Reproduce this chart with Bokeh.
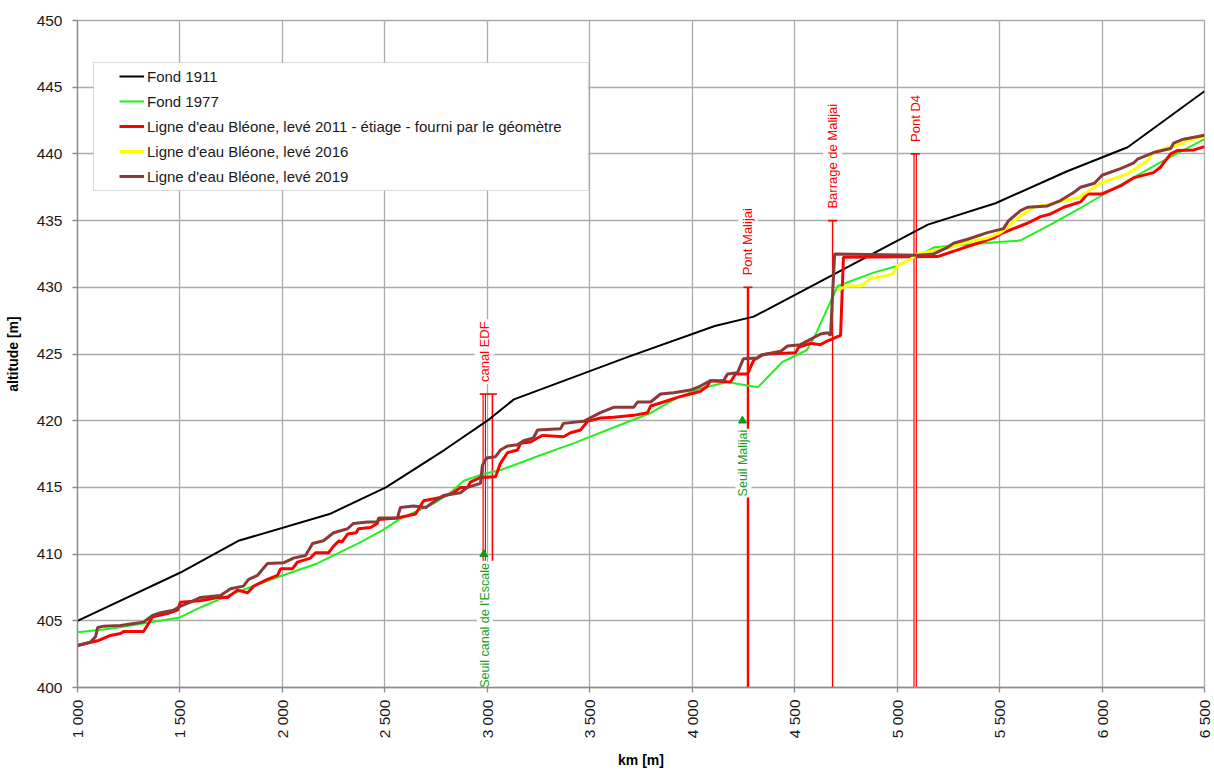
import math
from bokeh.plotting import figure
from bokeh.models import Range1d, FixedTicker, ColumnDataSource, BoxAnnotation
from bokeh.core.properties import value
from bokeh.embed import file_html
from bokeh.resources import INLINE

# ---------------- data ----------------
x_ticks = [1000, 1500, 2000, 2500, 3000, 3500, 4000, 4500, 5000, 5500, 6000, 6500]
x_tick_labels = ["1 000", "1 500", "2 000", "2 500", "3 000", "3 500", "4 000",
                 "4 500", "5 000", "5 500", "6 000", "6 500"]
y_ticks = [400, 405, 410, 415, 420, 425, 430, 435, 440, 445, 450]

km_1911 = [1000, 1500, 1785, 2230, 2505, 2790, 3000, 3130, 3690, 4110, 4300,
           5150, 5480, 5830, 6125, 6500]
z_1911 = [405.0, 408.6, 411.0, 413.0, 415.0, 417.8, 420.0, 421.6, 424.8, 427.1, 427.8,
          434.7, 436.3, 438.7, 440.5, 444.7]

km_1977 = [1000, 1160, 1320, 1440, 1500, 1600, 1760, 2000, 2170, 2370, 2490, 2580,
           2740, 2820, 2885, 2980, 3065, 3275, 3420, 3635, 3800, 3930, 4040, 4170,
           4320, 4440, 4560, 4600, 4710, 4885, 5000, 5080, 5180, 5500, 5600, 5760,
           5900, 6000, 6150, 6300, 6500]
z_1977 = [404.15, 404.4, 404.8, 405.1, 405.25, 406.0, 407.05, 408.4, 409.3, 410.8,
          411.8, 412.7, 413.8, 414.6, 415.5, 416.0, 416.3, 417.5, 418.3, 419.6, 420.6,
          421.75, 422.4, 422.9, 422.5, 424.4, 425.3, 426.4, 430.1, 431.1, 431.6, 432.2,
          433.0, 433.4, 433.5, 434.8, 436.0, 436.9, 438.2, 439.5, 441.1]

km_2011 = [1000, 1098, 1161, 1210, 1225, 1322, 1347, 1366, 1439, 1488, 1503, 1600,
           1683, 1732, 1781, 1830, 1860, 1927, 1976, 1991, 2049, 2073, 2137, 2161,
           2225, 2250, 2276, 2290, 2318, 2360, 2371, 2430, 2463, 2470, 2561, 2650,
           2689, 2772, 2835, 2869, 2903, 2918, 2967, 3040, 3064, 3098, 3147, 3162,
           3211, 3245, 3270, 3372, 3406, 3455, 3489, 3552, 3616, 3714, 3782, 3797,
           3860, 3928, 3992, 4040, 4074, 4089, 4187, 4211, 4270, 4299, 4333, 4367,
           4504, 4519, 4577, 4626, 4650, 4724, 4738, 5197, 5295, 5392, 5471, 5505,
           5568, 5636, 5700, 5749, 5813, 5895, 5929, 6000, 6090, 6153, 6251, 6285,
           6335, 6368, 6448, 6500]
z_2011 = [403.15, 403.5, 403.9, 404.05, 404.2, 404.2, 404.8, 405.3, 405.55, 405.8,
          406.4, 406.5, 406.75, 406.75, 407.3, 407.1, 407.6, 408.1, 408.4, 408.9,
          408.9, 409.4, 409.7, 410.1, 410.1, 410.6, 411.0, 410.9, 411.5, 411.6, 411.9,
          412.0, 412.3, 412.6, 412.7, 413.0, 414.0, 414.25, 414.6, 415.0, 415.0,
          415.4, 415.75, 415.8, 416.8, 417.6, 417.8, 418.3, 418.4, 418.7, 418.9,
          418.8, 419.1, 419.3, 419.95, 420.2, 420.25, 420.4, 420.6, 421.1, 421.4,
          421.75, 422.0, 422.2, 422.6, 423.0, 422.9, 423.5, 423.5, 424.5, 424.9,
          425.0, 425.1, 425.5, 425.8, 425.7, 425.9, 426.4, 432.25, 432.3, 432.8,
          433.3, 433.7, 434.0, 434.4, 434.8, 435.3, 435.5, 436.0, 436.4, 437.0,
          437.0, 437.6, 438.2, 438.6, 439.0, 440.0, 440.25, 440.3, 440.55]

km_2016 = [4709, 4758, 4821, 4870, 4953, 4978, 5002, 5066, 5100, 5178, 5261, 5344,
           5441, 5505, 5539, 5588, 5666, 5734, 5813, 5880, 5963, 5993, 6056, 6124,
           6222, 6251, 6285, 6398, 6417, 6500]
z_2016 = [429.8, 430.1, 430.1, 430.65, 430.9, 431.0, 431.6, 432.1, 432.5, 432.75,
          433.0, 433.4, 433.7, 434.1, 434.5, 435.2, 436.0, 436.2, 436.5, 436.7,
          437.5, 437.8, 438.15, 438.5, 439.5, 440.1, 440.3, 440.8, 441.0, 441.3]

km_2019 = [1000, 1063, 1088, 1098, 1128, 1210, 1275, 1322, 1366, 1405, 1469, 1503,
           1552, 1600, 1698, 1747, 1810, 1835, 1878, 1927, 2005, 2054, 2113, 2147,
           2200, 2250, 2318, 2347, 2416, 2463, 2470, 2561, 2576, 2640, 2700, 2737,
           2786, 2869, 2903, 2967, 2976, 2996, 3040, 3064, 3098, 3147, 3177, 3225,
           3245, 3357, 3372, 3470, 3552, 3616, 3714, 3733, 3797, 3845, 3909, 3992,
           4040, 4089, 4153, 4172, 4221, 4250, 4319, 4343, 4431, 4465, 4528, 4577,
           4626, 4660, 4675, 4695, 5100, 5178, 5246, 5275, 5344, 5441, 5519, 5544,
           5602, 5636, 5734, 5797, 5861, 5895, 5963, 6000, 6090, 6153, 6173, 6251,
           6335, 6349, 6398, 6500]
z_2019 = [403.15, 403.4, 403.8, 404.5, 404.6, 404.65, 404.8, 404.9, 405.4, 405.6,
          405.8, 406.1, 406.4, 406.75, 406.9, 407.4, 407.6, 408.1, 408.4, 409.3,
          409.35, 409.7, 409.9, 410.8, 411.0, 411.6, 411.9, 412.3, 412.4, 412.4,
          412.7, 412.7, 413.5, 413.6, 413.5, 413.9, 414.4, 414.6, 415.0, 415.3,
          416.65, 417.2, 417.3, 417.8, 418.1, 418.2, 418.5, 418.7, 419.3, 419.4,
          419.8, 419.95, 420.6, 421.0, 421.0, 421.4, 421.4, 422.0, 422.1, 422.3,
          422.6, 423.0, 423.0, 423.5, 423.6, 424.65, 424.7, 424.95, 425.2, 425.6,
          425.7, 426.1, 426.5, 426.6, 426.4, 432.5, 432.4, 432.5, 433.0, 433.3,
          433.6, 434.1, 434.4, 435.0, 435.75, 436.0, 436.1, 436.5, 437.1, 437.5,
          437.8, 438.4, 438.9, 439.3, 439.6, 440.1, 440.4, 440.8, 441.1, 441.4]

# structures (red bars) and their labels
bar_km = [2985, 3025, 4272, 4685, 5088]
bar_top = [422, 422, 430, 435, 440]
bar_bottom = [409.5, 409.5, 400, 400, 400]
struct_label = ["canal EDF", "Pont Malijai", "Barrage de Malijai", "Pont D4"]
struct_km = [2985, 4272, 4685, 5088]
struct_top = [422, 430, 435, 440]

# sills (green)
sill_label = ["Seuil canal de l'Escale", "Seuil Malijai"]
sill_km = [2983, 4245]
sill_z = [410, 420]

# ---------------- styles ----------------
FONT = "Liberation Sans"
GRID = "#ababab"
bar_width = [3.5, 1.6, 2.4, 1.4, 3.5]
bar_double = [True, False, False, False, True]

p = figure(width=1214, height=771, output_backend="svg", toolbar_location=None,
           x_range=Range1d(1000, 6500), y_range=Range1d(400, 450),
           min_border_left=77, min_border_right=10, min_border_top=20,
           min_border_bottom=84, background_fill_color="white",
           border_fill_color="white")
p.outline_line_color = GRID
p.outline_line_width = 1.3

p.xaxis.ticker = FixedTicker(ticks=x_ticks)
p.xaxis.major_label_overrides = {t: l for t, l in zip(x_ticks, x_tick_labels)}
p.xaxis.major_label_orientation = math.pi / 2
p.yaxis.ticker = FixedTicker(ticks=y_ticks)
for ax in (p.xaxis, p.yaxis):
    ax.axis_line_color = "#8c8c8c"
    ax.axis_line_width = 1.3
    ax.major_tick_line_color = "#8c8c8c"
    ax.major_tick_line_width = 1.3
    ax.major_tick_out = 5
    ax.major_tick_in = 0
    ax.minor_tick_line_color = None
    ax.major_label_text_font = FONT
    ax.major_label_text_font_size = "15.5px"
    ax.major_label_text_color = "#1a1a1a"
    ax.axis_label_text_font = FONT
    ax.axis_label_text_font_size = "14px"
    ax.axis_label_text_font_style = "bold"
    ax.axis_label_text_color = "#000000"
p.xaxis.axis_label = "km [m]"
p.yaxis.axis_label = "altitude [m]"
p.xaxis.major_label_standoff = 7
p.yaxis.major_label_standoff = 10
p.xaxis.axis_label_standoff = 11
p.yaxis.axis_label_standoff = 13

p.xgrid.grid_line_color = GRID
p.ygrid.grid_line_color = GRID
p.xgrid.grid_line_width = 1.3
p.ygrid.grid_line_width = 1.3

# legend frame (drawn under the data, over the grid)
legend_box = BoxAnnotation(left=93, right=588, top=62, bottom=190,
                           left_units="canvas", right_units="canvas",
                           top_units="canvas", bottom_units="canvas",
                           fill_color="white", fill_alpha=1.0,
                           line_color="#8c8c8c", line_width=1.2,
                           level="underlay")
p.add_layout(legend_box)

# structure bars
bars = ColumnDataSource(dict(x=bar_km, top=bar_top, bottom=bar_bottom, w=bar_width))
p.segment(x0="x", y0="bottom", x1="x", y1="top", source=bars,
          line_color="#ff0000", line_width="w")
dbl = [i for i, d in enumerate(bar_double) if d]
p.segment(x0=[bar_km[i] for i in dbl], y0=[bar_bottom[i] for i in dbl],
          x1=[bar_km[i] for i in dbl], y1=[bar_top[i] for i in dbl],
          line_color="white", line_width=1.1)
p.scatter(x=bar_km, y=bar_top, marker="dash", size=9, line_color="#ff0000",
          line_width=1.6)

# series
p.line(km_1911, z_1911, line_color="#000000", line_width=2, legend_label="Fond 1911")
p.line(km_1977, z_1977, line_color="#22f022", line_width=2, legend_label="Fond 1977")
p.line(km_2011, z_2011, line_color="#ff0000", line_width=3,
       legend_label="Ligne d'eau Bléone, levé 2011 - étiage - fourni par le géomètre")
p.line(km_2016, z_2016, line_color="#ffff00", line_width=3,
       legend_label="Ligne d'eau Bléone, levé 2016")
p.line(km_2019, z_2019, line_color="#8b3a3a", line_width=3,
       legend_label="Ligne d'eau Bléone, levé 2019")

# labels
p.text(x=struct_km, y=struct_top, text=struct_label, angle=math.pi / 2,
       text_align="left", text_baseline="middle", y_offset=-10,
       text_font=value(FONT), text_font_size="13px", text_color="#ff0000",
       background_fill_color="white", padding=2)
p.scatter(x=sill_km, y=sill_z, marker="triangle", size=8, fill_color="#119911",
          line_color="#119911")
p.text(x=sill_km, y=sill_z, text=sill_label, angle=math.pi / 2,
       text_align="right", text_baseline="middle", y_offset=8, x_offset=1,
       text_font=value(FONT), text_font_size="12.5px", text_color="#1e9e1e",
       background_fill_color="white", padding=1)

# legend entries (transparent, placed inside the frame above)
lg = p.legend[0]
lg.location = (42, 501)
lg.padding = 4
lg.spacing = 5
lg.margin = 0
lg.glyph_width = 25
lg.glyph_height = 20
lg.label_height = 20
lg.label_standoff = 3
lg.label_text_font = FONT
lg.label_text_font_size = "15px"
lg.label_text_color = "#1a1a1a"
lg.border_line_color = None
lg.background_fill_alpha = 0.0

open("out.html", "w").write(file_html(p, INLINE))
